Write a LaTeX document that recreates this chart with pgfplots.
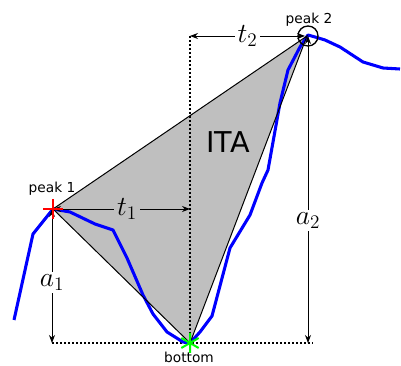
\documentclass[border=0pt]{standalone}
\usepackage{pgfplots}
\pgfplotsset{compat=1.18}
\usepackage{fontspec}
\setsansfont{DejaVu Sans}
\usetikzlibrary{arrows.meta}

\begin{document}
\begin{tikzpicture}[
  lbl/.style={font=\sffamily\fontsize{10.3}{12}\selectfont, inner sep=0pt},
  dim/.style={{Stealth[length=6pt,width=4.5pt]}-{Stealth[length=6pt,width=4.5pt]}, line width=0.6pt},
  mth/.style={font=\fontsize{21.5}{25}\selectfont, inner sep=2pt},
]
\begin{axis}[
  name=ax,
  scale only axis, width=300.75pt, height=274.5pt,
  xmin=0, xmax=401, ymin=0, ymax=366, y dir=reverse,
  axis lines=none, clip=false,
]
% ITA triangle
\addplot[fill=gray!50, draw=none] coordinates {(53,209) (307,36) (190,343)} -- cycle;

% dotted guides
\addplot[black, line width=1.6pt, dash pattern=on 1.5pt off 1.5pt] coordinates {(190,36) (190,343)};
\addplot[black, line width=1.6pt, dash pattern=on 1.5pt off 1.5pt] coordinates {(52,343) (313,343)};

% signal
\addplot[blue, line width=2.3pt, line join=round] coordinates {
  (14,320) (33,234) (53,209) (70,212) (95,224) (113,230) (127,258)
  (143,295) (153,314) (167,332) (183,342) (190,343) (200,332) (212,316)
  (230,248) (250,215) (262,183) (268,170) (280,103) (288,70) (300,47)
  (308,35) (315,37) (325,40) (340,47) (363,62) (383,68) (400,69)
};

\addplot[black, line width=0.75pt] coordinates {(53,209) (307,36) (190,343)} -- cycle;

% markers
\addplot[only marks, mark=+, red, mark size=7.5pt, line width=1.5pt] coordinates {(53,209)};
\addplot[only marks, mark=o, black, mark size=7.5pt, line width=1pt] coordinates {(308,36)};
\addplot[only marks, mark=asterisk, color={rgb,1:red,0;green,1;blue,0}, mark size=7.5pt, line width=1.5pt] coordinates {(190,343)};

% dimensions
\draw[dim] (axis cs:190,36) -- (axis cs:305,36) node[midway, mth, fill=white] {$t_2$};
\draw[dim] (axis cs:53,209) -- (axis cs:190,209) node[pos=0.54, mth, fill=gray!50] {$t_1$};
\draw[dim] (axis cs:52,209) -- (axis cs:52,343) node[pos=0.55, mth, fill=white] {$a_1$};
\draw[dim] (axis cs:308,36) -- (axis cs:308,343) node[pos=0.6, mth, fill=white] {$a_2$};

% labels
\node[lbl] at (axis cs:52,189) {peak 1};
\node[lbl] at (axis cs:309,20) {peak 2};
\node[lbl] at (axis cs:189,357) {bottom};
\node[font=\sffamily\fontsize{21.5}{25}\selectfont, inner sep=0pt] at (axis cs:228,142) {ITA};
\end{axis}
\pgfresetboundingbox
\useasboundingbox (ax.south west) rectangle (ax.north east);
\end{tikzpicture}
\end{document}
